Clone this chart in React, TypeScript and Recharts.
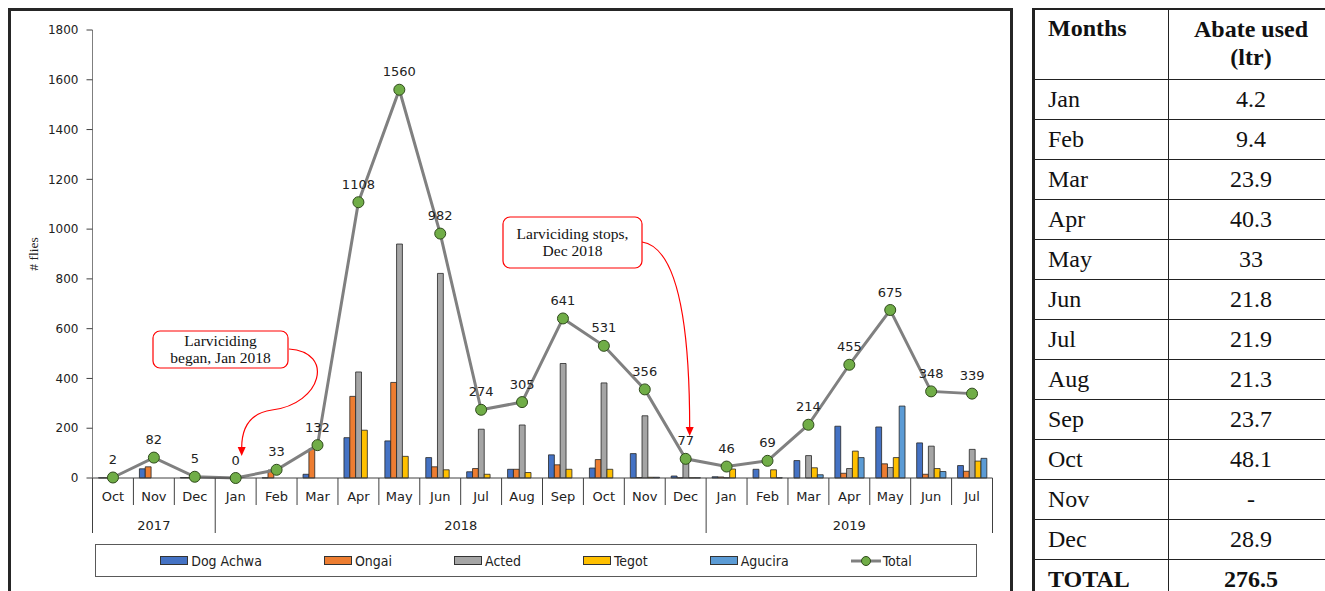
import React from 'react';
import { ComposedChart, Bar, Line, XAxis, YAxis, LabelList } from 'recharts';

// categories
const months = ['Oct', 'Nov', 'Dec', 'Jan', 'Feb', 'Mar', 'Apr', 'May', 'Jun', 'Jul', 'Aug', 'Sep', 'Oct', 'Nov', 'Dec', 'Jan', 'Feb', 'Mar', 'Apr', 'May', 'Jun', 'Jul'];
const years = ['2017', '2017', '2017', '2018', '2018', '2018', '2018', '2018', '2018', '2018', '2018', '2018', '2018', '2018', '2018', '2019', '2019', '2019', '2019', '2019', '2019', '2019'];

// flies caught per site
const dogAchwa = [1, 37, 2, 0, 1, 15, 162, 149, 82, 25, 35, 93, 40, 98, 8, 5, 35, 70, 208, 205, 141, 50];
const ongai = [1, 45, 2, 0, 32, 117, 328, 384, 45, 38, 35, 53, 74, 2, 1, 4, 0, 0, 19, 57, 15, 27];
const acted = [0, 0, 1, 0, 0, 0, 426, 940, 822, 196, 213, 460, 382, 250, 66, 1, 0, 90, 38, 42, 128, 115];
const tegot = [0, 0, 0, 0, 0, 0, 192, 87, 33, 15, 22, 35, 35, 3, 1, 36, 33, 41, 108, 82, 38, 68];
const agucira = [0, 0, 0, 0, 0, 0, 0, 0, 0, 0, 0, 0, 0, 3, 1, 0, 1, 13, 82, 289, 26, 79];
const total = [2, 82, 5, 0, 33, 132, 1108, 1560, 982, 274, 305, 641, 531, 356, 77, 46, 69, 214, 455, 675, 348, 339];

const yTicks = [0, 200, 400, 600, 800, 1000, 1200, 1400, 1600, 1800];

// abate table
const tableMonths = ['Jan', 'Feb', 'Mar', 'Apr', 'May', 'Jun', 'Jul', 'Aug', 'Sep', 'Oct', 'Nov', 'Dec'];
const abateUsed = ['4.2', '9.4', '23.9', '40.3', '33', '21.8', '21.9', '21.3', '23.7', '48.1', '-', '28.9'];
const abateTotal = '276.5';

const series = [
  { key: 'dogAchwa', name: 'Dog Achwa', color: '#4472C4', values: dogAchwa },
  { key: 'ongai', name: 'Ongai', color: '#ED7D31', values: ongai },
  { key: 'acted', name: 'Acted', color: '#A5A5A5', values: acted },
  { key: 'tegot', name: 'Tegot', color: '#FFC000', values: tegot },
  { key: 'agucira', name: 'Agucira', color: '#5B9BD5', values: agucira },
];

const data = months.map((m, i) => {
  const row: any = { label: `${m} ${years[i]}`, total: total[i] };
  series.forEach((s) => (row[s.key] = s.values[i]));
  return row;
});

// layout
const CHART_W = 1012;
const CHART_H = 591;
const M_TOP = 30;
const M_RIGHT = 19.5;
const Y_W = 92.5;
const X_H = 113;
const PLOT_LEFT = Y_W;
const PLOT_W = CHART_W - M_RIGHT - Y_W;
const PLOT_BOTTOM = CHART_H - X_H;
const BW = PLOT_W / months.length;

const sans = '"DejaVu Sans", sans-serif';
const serif = '"Liberation Serif", "Times New Roman", serif';
const axisColor = '#404040';

function MonthTick(props: any) {
  const { x, index } = props;
  const left = x - BW / 2;
  const groupStart = index === 0 || years[index] !== years[index - 1];
  const last = index === months.length - 1;
  const groupLen = years.filter((y) => y === years[index]).length;
  return (
    <g>
      <line x1={left} x2={left} y1={PLOT_BOTTOM} y2={groupStart ? 533 : 505} stroke={axisColor} strokeWidth={1} />
      {last && <line x1={left + BW} x2={left + BW} y1={PLOT_BOTTOM} y2={533} stroke={axisColor} strokeWidth={1} />}
      <text x={x} y={PLOT_BOTTOM + 23} textAnchor="middle" fontSize={13} fontFamily={sans} fill="#222">
        {months[index]}
      </text>
      {groupStart && (
        <text x={left + (groupLen * BW) / 2} y={PLOT_BOTTOM + 51.5} textAnchor="middle" fontSize={13} fontFamily={sans} fill="#222">
          {years[index]}
        </text>
      )}
    </g>
  );
}

function Callout({ x, y, w, h, lines }: { x: number; y: number; w: number; h: number; lines: string[] }) {
  return (
    <g>
      <rect x={x} y={y} width={w} height={h} rx={7} fill="#fff" stroke="#ff0000" strokeWidth={1.2} />
      {lines.map((t, i) => (
        <text key={i} x={x + w / 2} y={y + h / 2 + (i - (lines.length - 1) / 2) * 17 + 5} textAnchor="middle" fontSize={15.5} fontFamily={serif} fill="#111">
          {t}
        </text>
      ))}
    </g>
  );
}

const xc = (i: number) => PLOT_LEFT + (i + 0.5) * BW;

function Annotations() {
  const a1 = { x: xc(3) + 6, y: 456 };
  const a2 = { x: xc(14) + 4, y: 436 };
  return (
    <svg width={CHART_W} height={CHART_H} style={{ position: 'absolute', left: 0, top: 0, pointerEvents: 'none' }}>
      <Callout x={153} y={331} w={135} h={37} lines={['Larviciding', 'began, Jan 2018']} />
      <path d={`M289,349 C335,352 322,404 272,410 C250,413 ${a1.x},428 ${a1.x},${a1.y - 8}`} fill="none" stroke="#ff0000" strokeWidth={1.2} />
      <path d={`M${a1.x - 4},${a1.y - 9} L${a1.x + 4},${a1.y - 9} L${a1.x},${a1.y} Z`} fill="#ff0000" />
      <Callout x={503} y={217} w={139} h={51} lines={['Larviciding stops,', 'Dec 2018']} />
      <path d={`M642,242 C668,246 ${a2.x},290 ${a2.x},${a2.y - 8}`} fill="none" stroke="#ff0000" strokeWidth={1.2} />
      <path d={`M${a2.x - 4},${a2.y - 9} L${a2.x + 4},${a2.y - 9} L${a2.x},${a2.y} Z`} fill="#ff0000" />
    </svg>
  );
}

function ChartLegend() {
  return (
    <div
      style={{
        position: 'absolute', left: 95, top: 544, width: 882, height: 33, boxSizing: 'border-box',
        border: '1.5px solid #595959', display: 'flex', justifyContent: 'center', alignItems: 'center', gap: 62,
        fontFamily: '"DejaVu Sans Condensed", "DejaVu Sans", sans-serif', fontSize: 14, color: '#222',
      }}
    >
      {series.map((s) => (
        <div key={s.key} style={{ display: 'flex', alignItems: 'center' }}>
          <span style={{ width: 28, height: 9, background: s.color, border: '1px solid #333', boxSizing: 'border-box', marginRight: 3 }} />
          {s.name}
        </div>
      ))}
      <div style={{ display: 'flex', alignItems: 'center' }}>
        <svg width={30} height={12} style={{ marginRight: 2 }}>
          <line x1={0} x2={30} y1={6} y2={6} stroke="#808080" strokeWidth={3} />
          <circle cx={15} cy={6} r={4.5} fill="#70AD47" stroke="#2f4a1c" strokeWidth={1} />
        </svg>
        Total
      </div>
    </div>
  );
}

function AbateTable() {
  const border = '1.5px solid #222';
  const cell: React.CSSProperties = { borderTop: border, borderRight: border, height: 40, padding: 0, boxSizing: 'border-box', verticalAlign: 'middle' };
  return (
    <div style={{ position: 'absolute', left: 1032, top: 8, fontFamily: serif, fontSize: 24, color: '#111' }}>
      <table style={{ borderCollapse: 'collapse', tableLayout: 'fixed', width: 300, borderLeft: '3px solid #222', borderTop: '2px solid #222' }}>
        <colgroup>
          <col style={{ width: 135 }} />
          <col style={{ width: 165 }} />
        </colgroup>
        <tbody>
          <tr>
            <td style={{ ...cell, borderTop: 'none', height: 70, verticalAlign: 'top', fontWeight: 'bold', paddingLeft: 13, paddingTop: 5 }}>Months</td>
            <td style={{ ...cell, borderTop: 'none', height: 70, verticalAlign: 'top', fontWeight: 'bold', textAlign: 'center', paddingTop: 5, lineHeight: '28px' }}>
              Abate used
              <br />
              (ltr)
            </td>
          </tr>
          {tableMonths.map((m, i) => (
            <tr key={m}>
              <td style={{ ...cell, paddingLeft: 13 }}>{m}</td>
              <td style={{ ...cell, textAlign: 'center' }}>{abateUsed[i]}</td>
            </tr>
          ))}
          <tr>
            <td style={{ ...cell, paddingLeft: 13, fontWeight: 'bold' }}>TOTAL</td>
            <td style={{ ...cell, textAlign: 'center', fontWeight: 'bold' }}>{abateTotal}</td>
          </tr>
        </tbody>
      </table>
    </div>
  );
}

export default function App() {
  return (
    <div style={{ position: 'absolute', left: 0, top: 0, width: 1325, height: 591, overflow: 'hidden', background: '#fff' }}>
      <div style={{ position: 'absolute', left: 8, top: 8, width: 1005, height: 700, border: '3px solid #262626', boxSizing: 'border-box' }} />
      <div style={{ position: 'absolute', left: 0, top: 0 }}>
        <ComposedChart width={CHART_W} height={CHART_H} data={data} margin={{ top: M_TOP, right: M_RIGHT, bottom: 0, left: 0 }} barGap={0} barSize={5.85}>
          <XAxis
            dataKey="label"
            interval={0}
            height={X_H}
            tickLine={false}
            axisLine={{ stroke: axisColor }}
            tick={<MonthTick />}
          />
          <YAxis
            width={Y_W}
            domain={[0, 1800]}
            ticks={yTicks}
            interval={0}
            tickSize={6}
            tickMargin={8}
            axisLine={{ stroke: '#7f7f7f' }}
            tickLine={{ stroke: '#404040' }}
            tick={{ fontSize: 12, fontFamily: sans, fill: '#222' }}
            label={{
              content: ({ viewBox }: any) => {
                const cy = viewBox.y + viewBox.height / 2;
                return (
                  <text x={38} y={cy} transform={`rotate(-90, 38, ${cy})`} textAnchor="middle" fontSize={13.5} fontFamily={serif} fill="#222">
                    # flies
                  </text>
                );
              },
            }}
          />
          {series.map((s) => (
            <Bar key={s.key} dataKey={s.key} name={s.name} fill={s.color} stroke="#262626" strokeWidth={0.8} isAnimationActive={false} />
          ))}
          <Line
            dataKey="total"
            name="Total"
            stroke="#808080"
            strokeWidth={3}
            dot={{ r: 5.5, fill: '#70AD47', stroke: '#2f4a1c', strokeWidth: 1 }}
            activeDot={false}
            isAnimationActive={false}
          >
            <LabelList dataKey="total" position="top" offset={13.5} fontSize={13} fontFamily={sans} fill="#222" />
          </Line>
        </ComposedChart>
      </div>
      <Annotations />
      <ChartLegend />
      <AbateTable />
    </div>
  );
}
